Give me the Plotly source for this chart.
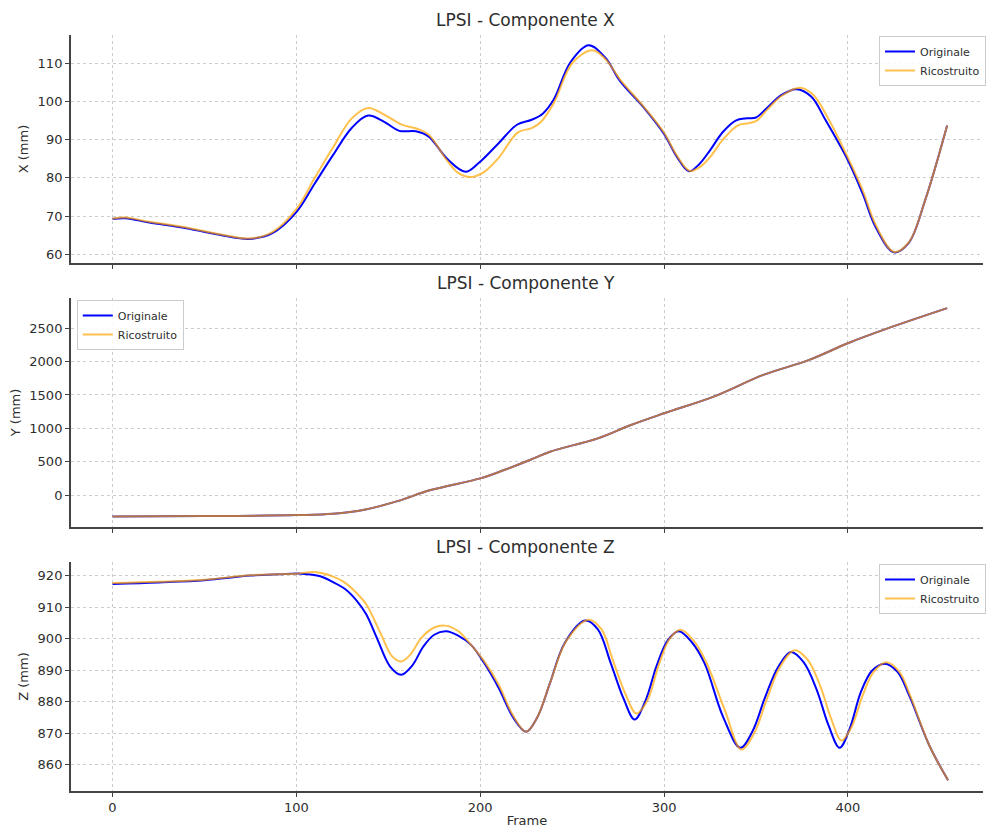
import plotly.graph_objects as go
from plotly.subplots import make_subplots

# ---- Componente X ----
fx_orig = [0, 7, 20, 40, 60, 74, 87, 100, 110, 120, 130, 139, 148, 156, 165, 172, 182,
           192, 199, 209.5, 220, 228, 234, 240, 249, 259, 268, 276, 289, 300, 307, 313.5,
           319, 325, 332, 339, 345, 350, 356, 364, 372, 380, 388, 400, 408, 415, 425, 433,
           442, 454]
x_orig = [69.2, 69.4, 68.3, 66.8, 64.9, 64.0, 65.5, 71.0, 78.5, 86.0, 93.0, 96.3, 94.6,
          92.3, 92.2, 90.8, 85.0, 81.6, 83.8, 88.8, 93.9, 95.2, 96.8, 100.5, 110.2, 114.7,
          111.5, 105.4, 98.4, 91.5, 85.5, 81.7, 83.5, 87.2, 92.0, 95.0, 95.6, 95.8, 98.3,
          101.7, 103.2, 101.3, 95.0, 84.6, 75.9, 67.2, 60.5, 62.9, 74.1, 93.7]
fx_rec = [0, 7, 20, 40, 60, 74, 87, 100, 110, 120, 130, 139, 148, 157, 166, 172, 182,
          188, 195, 202, 210, 220.5, 228, 233, 240, 250, 261, 268, 276, 289, 300, 307, 314,
          320, 325, 332, 340, 346, 350.5, 356, 364, 374, 381, 389, 400, 408, 415, 425, 433,
          442, 454]
x_rec = [69.3, 69.6, 68.5, 67.0, 65.1, 64.1, 65.8, 71.8, 80.0, 88.0, 95.5, 98.3, 96.5,
         94.0, 92.8, 91.3, 84.5, 81.3, 80.2, 81.5, 85.2, 91.9, 93.0, 94.6, 99.5, 110.0,
         113.4, 111.2, 105.8, 98.6, 91.8, 85.8, 81.8, 83.0, 85.4, 90.0, 93.7, 94.3, 95.0,
         97.8, 101.5, 103.6, 101.8, 95.8, 85.3, 76.8, 67.8, 60.6, 63.0, 74.1, 93.7]

# ---- Componente Y ----
fy = [0, 50, 100, 120, 137, 155, 173, 200, 213, 227, 238, 264, 282, 300, 327, 354, 379,
      400, 422, 454]
y_orig = [-320, -315, -300, -280, -220, -90, 75, 250, 375, 525, 650, 850, 1050, 1225,
          1475, 1800, 2025, 2275, 2500, 2800]
y_rec = [-320, -315, -300, -280, -220, -90, 75, 250, 375, 525, 650, 850, 1050, 1225,
         1475, 1800, 2025, 2275, 2500, 2800]

# ---- Componente Z ----
fz_orig = [0, 25, 50, 75, 90, 103, 113, 120, 127, 133, 138, 144, 151, 157, 163, 169, 175,
           181.5, 188, 195, 202, 210, 218, 225, 231, 238, 246, 257, 264, 271, 278, 284,
           290, 296, 302, 308, 315, 322, 332, 341.5, 348, 355, 362, 369, 376, 383, 389.5,
           395.5, 401, 407, 413, 420, 427, 433.5, 444.5, 454.5]
z_orig = [917.4, 917.9, 918.6, 920.1, 920.5, 920.7, 919.9, 918.0, 915.6, 912.0, 907.8,
          900.0, 891.2, 888.6, 891.5, 897.5, 901.3, 902.4, 901.0, 898.1, 892.5, 884.5,
          875.0, 870.5, 875.0, 886.0, 898.7, 905.8, 903.0, 892.3, 881.0, 874.4, 880.5,
          891.5, 899.5, 902.4, 899.0, 892.3, 875.4, 865.4, 870.5, 881.5, 891.0, 895.8,
          892.5, 883.9, 872.5, 865.4, 871.5, 883.0, 889.8, 892.1, 889.5, 881.8, 865.9, 855.1]
fz_rec = [0, 25, 50, 75, 90, 100, 110, 119, 126, 132, 138, 146, 152, 157, 162, 168, 175,
          181, 188, 195, 202, 210, 218, 225, 231, 238, 247, 259, 266, 272, 279, 285, 291,
          297, 303, 309, 316, 323, 333, 342, 349, 356, 363, 371, 378, 385, 391, 396.5, 402,
          408, 414, 421, 428, 434, 444.5, 454.5]
z_rec = [917.7, 918.1, 918.8, 920.2, 920.5, 920.7, 921.2, 920.0, 918.0, 915.0, 911.0,
         901.5, 894.5, 892.8, 895.0, 900.3, 903.6, 904.2, 902.5, 898.1, 893.0, 885.5,
         875.5, 870.5, 875.0, 886.0, 899.5, 906.1, 903.0, 893.5, 882.5, 876.3, 880.5,
         891.5, 900.0, 902.9, 899.5, 892.5, 877.5, 864.9, 870.0, 881.0, 891.0, 896.4,
         893.5, 885.0, 874.5, 867.7, 872.0, 882.0, 889.5, 892.6, 889.5, 881.8, 865.9, 855.1]

panels = [
    ("LPSI - Componente X", "X (mm)", fx_orig, x_orig, fx_rec, x_rec, [57.7, 117.4],
     [60, 70, 80, 90, 100, 110]),
    ("LPSI - Componente Y", "Y (mm)", fy, y_orig, fy, y_rec, [-478, 2952],
     [0, 500, 1000, 1500, 2000, 2500]),
    ("LPSI - Componente Z", "Z (mm)", fz_orig, z_orig, fz_rec, z_rec, [851.7, 924.4],
     [860, 870, 880, 890, 900, 910, 920]),
]

W, H = 986, 828
left_px = 71
y_bounds_px = [(35, 263), (298, 527), (562, 791)]
legend_pos = [(882 / W, 1 - 36 / H), (77 / W, 1 - 300 / H), (882 / W, 1 - 564 / H)]

FONT = "DejaVu Sans, Verdana, sans-serif"
TXT = "#2e2e2e"
BLUE = "#0000ff"
ORANGE = "rgba(255,165,0,0.7)"

fig = make_subplots(rows=3, cols=1, shared_xaxes=False)

for i, (title, ylab, fo, orig, fr, rec, yr, yt) in enumerate(panels):
    row = i + 1
    leg = "legend" if i == 0 else f"legend{i + 1}"
    fig.add_trace(go.Scatter(x=fo, y=orig, mode="lines", name="Originale",
                             line=dict(color=BLUE, width=2, shape="spline", smoothing=1.0),
                             legend=leg), row=row, col=1)
    fig.add_trace(go.Scatter(x=fr, y=rec, mode="lines", name="Ricostruito",
                             line=dict(color=ORANGE, width=2, shape="spline", smoothing=1.0),
                             legend=leg), row=row, col=1)

    top_px, bot_px = y_bounds_px[i]
    dom = [1 - bot_px / H, 1 - top_px / H]
    xa = "xaxis" if i == 0 else f"xaxis{i + 1}"
    ya = "yaxis" if i == 0 else f"yaxis{i + 1}"
    fig.layout[xa].update(
        domain=[left_px / W, 1.0], range=[-22.7, 473.5],
        tickvals=[0, 100, 200, 300, 400], showticklabels=(i == 2),
        ticks="outside", ticklen=4, tickcolor="#444", tickwidth=1,
        showline=True, linecolor="#444", linewidth=1.5, mirror=False,
        showgrid=True, gridcolor="#cccccc", griddash="dot", gridwidth=1,
        zeroline=False, automargin=False,
        tickfont=dict(family=FONT, size=13, color=TXT),
    )
    fig.layout[ya].update(
        domain=dom, range=yr, tickvals=yt,
        ticks="outside", ticklen=4, tickcolor="#444", tickwidth=1,
        showline=True, linecolor="#444", linewidth=1.5, mirror=False,
        showgrid=True, gridcolor="#cccccc", griddash="dot", gridwidth=1,
        zeroline=False, automargin=False,
        tickfont=dict(family=FONT, size=13, color=TXT),
        title=dict(text=ylab, standoff=6, font=dict(family=FONT, size=13, color=TXT)),
    )
    fig.add_annotation(text=title, x=0.535, y=1 - (top_px - 15) / H, xref="paper", yref="paper",
                       showarrow=False, xanchor="center", yanchor="middle",
                       font=dict(family=FONT, size=17, color=TXT))

    lx, ly = legend_pos[i]
    fig.layout[leg] = dict(
        x=lx, y=ly, xanchor="left", yanchor="top",
        bgcolor="rgba(255,255,255,0.85)", bordercolor="#cccccc", borderwidth=1,
        font=dict(family=FONT, size=11, color=TXT),
        tracegroupgap=0, itemwidth=30,
    )

fig.layout.xaxis3.title = dict(text="Frame", standoff=4, font=dict(family=FONT, size=13, color=TXT))

fig.update_layout(
    width=W, height=H,
    margin=dict(l=0, r=0, t=0, b=0),
    paper_bgcolor="white", plot_bgcolor="white",
    showlegend=True,
)

fig.write_html("out.html")
